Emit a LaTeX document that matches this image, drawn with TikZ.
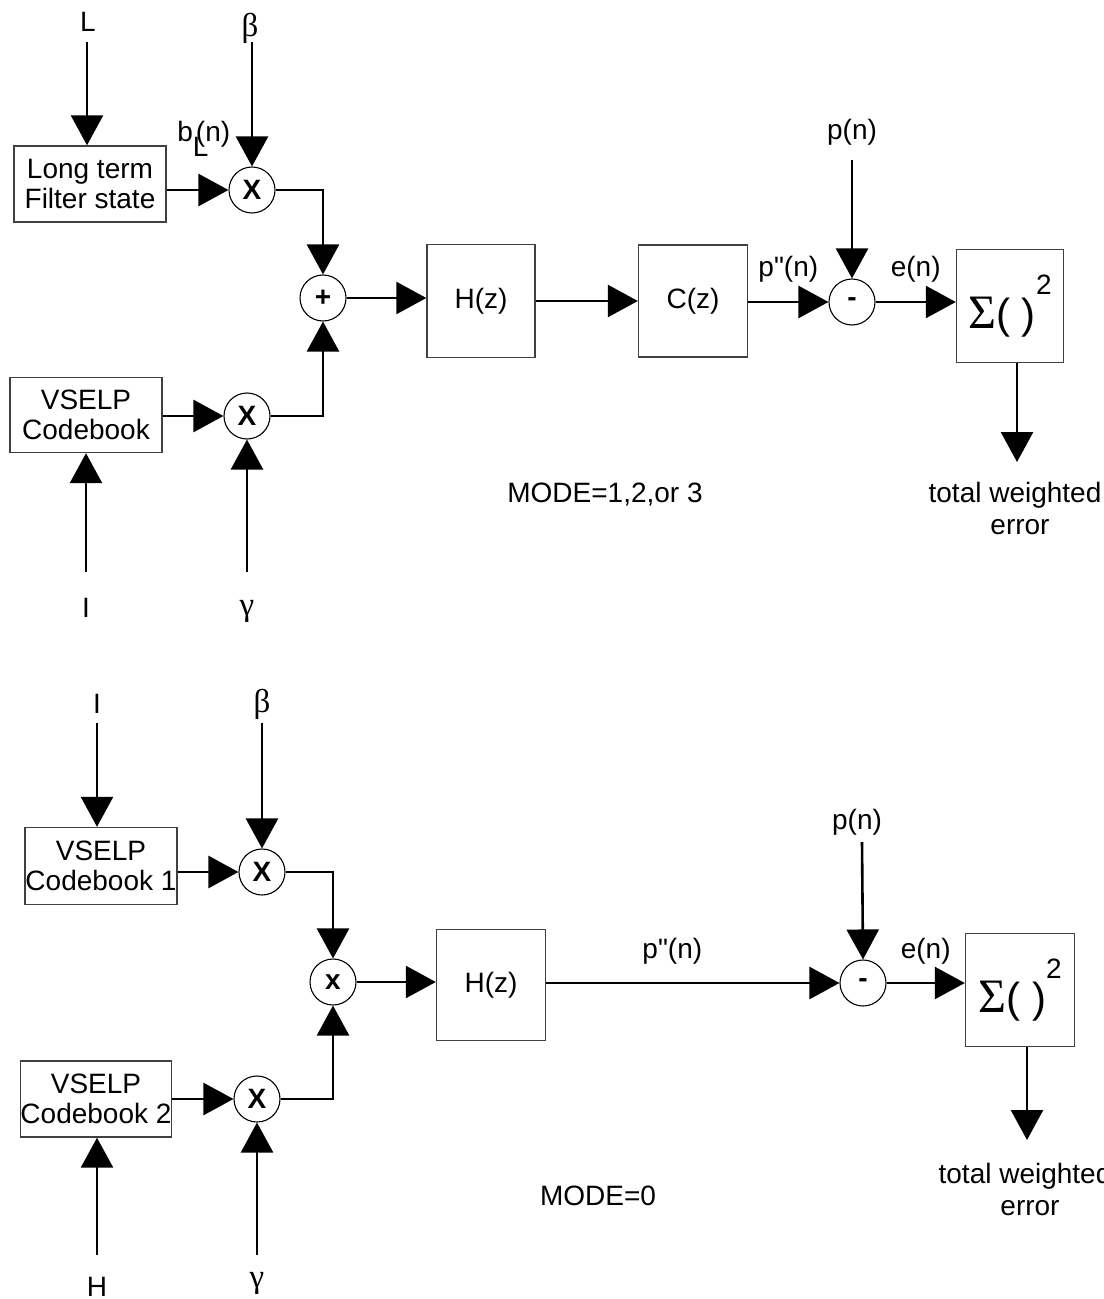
\documentclass[tikz,border=0pt]{standalone}
\usepackage{fontspec}
\setmainfont{Liberation Sans}[Ligatures=TeXOff]
\newfontfamily\symfont{Liberation Serif}
\usetikzlibrary{arrows.meta}

\newcommand{\diagfont}{\fontsize{14}{15}\selectfont}
\newcommand{\grk}[1]{{\symfont\fontsize{16.5}{17}\selectfont #1}}
\newcommand{\sqerr}{{\symfont\fontsize{24}{24}\selectfont Σ}{\fontsize{21}{21}\selectfont( )}\raisebox{17pt}{2}}

\begin{document}
\begin{tikzpicture}[x=0.5pt, y=-0.5pt, font=\diagfont,
    wire/.style={line width=1.3pt},
    arr/.style={wire, -{Triangle[length=15pt,width=16pt]}},
    blk/.style={draw=black!75, line width=0.7pt, inner sep=0pt, align=center},
    mul/.style={draw, circle, line width=0.55pt, minimum size=23pt, inner sep=0pt, font=\diagfont\bfseries},
    lbl/.style={anchor=base, inner sep=0pt}]
  \useasboundingbox (0,0) rectangle (1103,1299);

  % ---- MODE=1,2,or 3 ----
  % inputs
  \node[lbl] (L1) at (88,32) {L};
  \node[lbl] (beta1) at (250,37) {\grk{β}};
  \node[lbl] (I1) at (86,617) {I};
  \node[lbl] (gamma1) at (247,615) {\grk{γ}};
  \node[lbl] (p1) at (852,140) {p(n)};
  \coordinate (L1in) at (87,42);
  \coordinate (beta1in) at (252,42);
  \coordinate (I1in) at (86,572);
  \coordinate (gamma1in) at (247,572);
  \coordinate (p1in) at (852,160);
  \coordinate (err1out) at (1017,462);
  % blocks
  \node[blk, minimum width=76pt, minimum height=38pt] (ltf) at (90,184) {Long term\\Filter state};
  \node[blk, minimum width=76pt, minimum height=37.5pt] (vcb) at (86,415) {VSELP\\Codebook};
  \node[mul] (mb1) at (252,190) {X};
  \node[mul] (mg1) at (247,416) {X};
  \node[mul] (sum1) at (323,298) {+};
  \node[blk, minimum width=54pt, minimum height=56.5pt] (H1) at (481,301) {\raisebox{-3pt}{H(z)}};
  \node[blk, minimum width=54.5pt, minimum height=56pt] (C1) at (693,301) {C(z)};
  \node[mul] (dif1) at (852,302) {-};
  \node[blk, minimum width=53.5pt, minimum height=56.5pt] (sq1) at (1010,306) {\sqerr};
  \node[anchor=base west, inner sep=0pt] (bL) at (177,142) {b\rlap{\raisebox{-7.5pt}{L}}\hspace{1.5pt}(n)};
  % connectors
  \draw[arr] (L1in) -- (L1in |- ltf.north);
  \draw[arr] (beta1in) -- (mb1.north);
  \draw[arr] (I1in) -- (I1in |- vcb.south);
  \draw[arr] (gamma1in) -- (mg1.south);
  \draw[arr] (ltf.east |- mb1.west) -- (mb1.west);
  \draw[arr] (vcb.east |- mg1.west) -- (mg1.west);
  \draw[arr] (mb1.east) -| (sum1.north);
  \draw[arr] (mg1.east) -| (sum1.south);
  \draw[arr] (sum1.east) -- (sum1.east -| H1.west);
  \draw[arr] (H1.east) -- (C1.west);
  \draw[arr] (C1.east |- dif1.west) -- node[lbl, yshift=12.5pt] (pp1) {p"(n)} (dif1.west);
  \draw[arr] (p1in) -- (dif1.north);
  \draw[arr] (dif1.east) -- node[lbl, yshift=12.5pt] (e1) {e(n)} (dif1.east -| sq1.west);
  \draw[arr] (sq1.south -| err1out) -- (err1out);

  % ---- MODE=0 ----
  % inputs
  \node[lbl] (I2) at (97,713) {I};
  \node[lbl] (beta2) at (262,712) {\grk{β}};
  \node[lbl] (H2txt) at (97,1296) {H};
  \node[lbl] (gamma2) at (257,1287) {\grk{γ}};
  \node[lbl] (p2) at (857,829) {p(n)};
  \coordinate (I2in) at (97,723);
  \coordinate (beta2in) at (262,723);
  \coordinate (H2in) at (97,1255);
  \coordinate (gamma2in) at (257,1255);
  \coordinate (p2in) at (862,842);
  \coordinate (err2out) at (1027,1140);
  % blocks
  \node[blk, minimum width=76pt, minimum height=38.5pt] (vcb1) at (101,866) {VSELP\\Codebook 1};
  \node[blk, minimum width=75.5pt, minimum height=38pt] (vcb2) at (96,1099) {VSELP\\Codebook 2};
  \node[mul] (mb2) at (262,872) {X};
  \node[mul] (mg2) at (257,1099) {X};
  \node[mul] (sum2) at (333,982) {x};
  \node[blk, minimum width=54.5pt, minimum height=55.5pt] (H2) at (491,985) {\raisebox{-3pt}{H(z)}};
  \node[mul] (dif2) at (863,983) {-};
  \node[blk, minimum width=54.5pt, minimum height=56.5pt] (sq2) at (1020,990) {\sqerr};
  % connectors
  \draw[arr] (I2in) -- (I2in |- vcb1.north);
  \draw[arr] (beta2in) -- (mb2.north);
  \draw[arr] (H2in) -- (H2in |- vcb2.south);
  \draw[arr] (gamma2in) -- (mg2.south);
  \draw[arr] (vcb1.east |- mb2.west) -- (mb2.west);
  \draw[arr] (vcb2.east |- mg2.west) -- (mg2.west);
  \draw[arr] (mb2.east) -| (sum2.north);
  \draw[arr] (mg2.east) -| (sum2.south);
  \draw[arr] (sum2.east) -- (sum2.east -| H2.west);
  \draw[arr] (H2.east |- dif2.west) -- node[lbl, pos=0.43, yshift=12.5pt] (pp2) {p"(n)} (dif2.west);
  \draw[arr] (p2in) -- (dif2.north);
  \draw[arr] (dif2.east) -- node[lbl, yshift=12.5pt] (e2) {e(n)} (dif2.east -| sq2.west);
  \draw[arr] (sq2.south -| err2out) -- (err2out);

  % output and mode labels
  \foreach \n/\x/\y in {1/1015/502, 2/1025/1183} {
    \node[lbl] (tw\n) at (\x,\y) {total weighted};
    \node[lbl] (er\n) at (\x+5,\y+32) {error};
  }
  \node[lbl] (mode1) at (605,502) {MODE=1,2,or 3};
  \node[lbl] (mode0) at (598,1205) {MODE=0};
\end{tikzpicture}
\end{document}
